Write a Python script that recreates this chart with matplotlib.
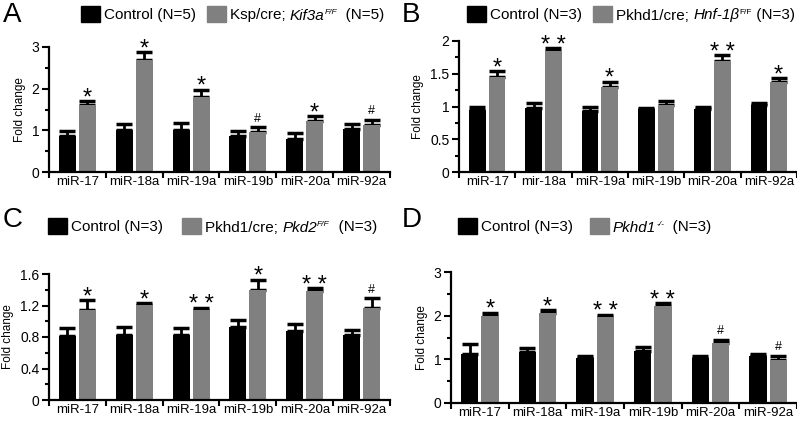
import numpy as np
import matplotlib
matplotlib.use('Agg')
import matplotlib.pyplot as plt
from matplotlib.patches import Rectangle
from matplotlib.ticker import MultipleLocator, StrMethodFormatter

plt.rcParams['font.family'] = ['Liberation Sans', 'DejaVu Sans']

# ---- data ----
labels = ['miR-17', 'miR-18a', 'miR-19a', 'miR-19b', 'miR-20a', 'miR-92a']
labels_b = ['miR-17', 'mir-18a', 'miR-19a', 'miR-19b', 'miR-20a', 'miR-92a']

a_ctrl = [0.87, 1.02, 1.00, 0.87, 0.79, 1.04]
a_ctrl_err = [0.11, 0.13, 0.18, 0.11, 0.15, 0.12]
a_ko = [1.61, 2.70, 1.80, 0.96, 1.23, 1.12]
a_ko_err = [0.10, 0.18, 0.18, 0.11, 0.11, 0.13]
a_sig = ['*', '*', '*', '#', '*', '#']

b_ctrl = [0.95, 0.97, 0.93, 0.96, 0.96, 1.03]
b_ctrl_err = [0.04, 0.09, 0.06, 0.02, 0.03, 0.03]
b_ko = [1.45, 1.84, 1.30, 1.03, 1.69, 1.38]
b_ko_err = [0.09, 0.05, 0.08, 0.06, 0.09, 0.05]
b_sig = ['*', '* *', '*', '', '* *', '*']

c_ctrl = [0.81, 0.83, 0.83, 0.93, 0.88, 0.82]
c_ctrl_err = [0.10, 0.10, 0.08, 0.09, 0.08, 0.07]
c_ko = [1.14, 1.21, 1.14, 1.40, 1.39, 1.17]
c_ko_err = [0.13, 0.02, 0.03, 0.13, 0.03, 0.12]
c_sig = ['*', '*', '* *', '*', '* *', '#']

d_ctrl = [1.13, 1.17, 1.03, 1.19, 1.03, 1.08]
d_ctrl_err = [0.23, 0.10, 0.04, 0.10, 0.04, 0.05]
d_ko = [2.00, 2.06, 1.97, 2.22, 1.38, 0.99]
d_ko_err = [0.07, 0.07, 0.05, 0.06, 0.06, 0.08]
d_sig = ['*', '*', '* *', '* *', '#', '#']

W, H = 797, 422
fig = plt.figure(figsize=(W / 100, H / 100), dpi=100)
renderer = fig.canvas.get_renderer()

BLACK = '#000000'
GRAY = '#808080'


def px_axes(left, right, top, bottom):
    # axes from pixel box
    return fig.add_axes([left / W, 1 - bottom / H, (right - left) / W, (bottom - top) / H])


def draw_panel(ax, ctrl, ctrl_err, ko, ko_err, sig, ticklabels, ymax, major, minor):
    x = np.arange(len(ctrl))
    w = 0.3
    ax.bar(x - 0.175, ctrl, w, color=BLACK, zorder=2)
    ax.bar(x + 0.175, ko, w, color=GRAY, zorder=2)
    ax.errorbar(x - 0.175, ctrl, yerr=[np.zeros(len(ctrl)), ctrl_err], fmt='none',
                ecolor=BLACK, elinewidth=2, capsize=5.5, capthick=2.5, zorder=1)
    ax.errorbar(x + 0.175, ko, yerr=[np.zeros(len(ko)), ko_err], fmt='none',
                ecolor=BLACK, elinewidth=2, capsize=5.5, capthick=2.5, zorder=1)
    for xi, v, e, s in zip(x, ko, ko_err, sig):
        if not s:
            continue
        if s == '#':
            ax.annotate(s, (xi + 0.175, v + e), xytext=(0, 2), textcoords='offset points',
                        ha='center', va='bottom', fontsize=9)
        else:
            ax.annotate(s, (xi + 0.175, v + e), xytext=(0, -6), textcoords='offset points',
                        ha='center', va='bottom', fontsize=17)
    ax.set_xlim(-0.5, len(ctrl) - 0.5)
    ax.set_ylim(0, ymax)
    ax.set_xticks(x)
    ax.set_xticklabels(ticklabels, fontsize=9.5)
    ax.set_xticks(np.arange(len(ctrl) + 1) - 0.5, minor=True)
    ax.tick_params(axis='x', which='major', length=0, pad=3)
    ax.tick_params(axis='x', which='minor', length=4, width=1.5, direction='out')
    ax.yaxis.set_major_locator(MultipleLocator(major))
    ax.yaxis.set_minor_locator(MultipleLocator(minor))
    ax.yaxis.set_major_formatter(StrMethodFormatter('{x:g}'))
    ax.tick_params(axis='y', which='major', length=5, width=1.5, labelsize=10, pad=2)
    ax.tick_params(axis='y', which='minor', length=3, width=1.5)
    ax.set_ylabel('Fold change', fontsize=8.5, labelpad=4)
    for side in ['top', 'right']:
        ax.spines[side].set_visible(False)
    for side in ['left', 'bottom']:
        ax.spines[side].set_linewidth(1.6)


def text_runs(x, base, runs):
    # runs: (text, style, size, raise_px), drawn one after another on a baseline
    for s, style, size, up in runs:
        t = fig.text(x / W, 1 - (base - up) / H, s, fontsize=size, style=style,
                     va='baseline', ha='left')
        x += t.get_window_extent(renderer).width


def legend_row(y, x1, t1, x2, runs2, sq=19):
    for xs, col in [(x1, BLACK), (x2, GRAY)]:
        fig.add_artist(Rectangle((xs / W, 1 - (y + 8) / H), sq / W, 16 / H,
                                 transform=fig.transFigure, color=col))
    base = y + 5.5
    text_runs(x1 + sq + 4, base, [(t1, 'normal', 11, 0)])
    text_runs(x2 + sq + 4, base, runs2)


def panel_letter(x, y, s):
    fig.text(x / W, 1 - y / H, s, fontsize=20, va='center', ha='left')


# Panel A
axA = px_axes(49, 390, 47, 172)
draw_panel(axA, a_ctrl, a_ctrl_err, a_ko, a_ko_err, a_sig, labels, 3, 1, 0.5)
panel_letter(3, 15, 'A')
legend_row(14, 81, 'Control (N=5)', 207,
           [('Ksp/cre; ', 'normal', 11, 0), ('Kif3a', 'italic', 11, 0),
            ('F/F', 'italic', 6, 6), ('  (N=5)', 'normal', 11, 0)])

# Panel B
axB = px_axes(459, 797, 41, 172)
draw_panel(axB, b_ctrl, b_ctrl_err, b_ko, b_ko_err, b_sig, labels_b, 2, 0.5, 0.25)
panel_letter(402, 15, 'B')
legend_row(14, 467, 'Control (N=3)', 593,
           [('Pkhd1/cre; ', 'normal', 11, 0), ('Hnf-1\u03b2', 'italic', 11, 0),
            ('F/F', 'normal', 6, 6), (' (N=3)', 'normal', 11, 0)])

# Panel C
axC = px_axes(49, 390, 274, 400)
draw_panel(axC, c_ctrl, c_ctrl_err, c_ko, c_ko_err, c_sig, labels, 1.6, 0.4, 0.2)
panel_letter(3, 220, 'C')
legend_row(226, 48, 'Control (N=3)', 182,
           [('Pkhd1/cre; ', 'normal', 11, 0), ('Pkd2', 'italic', 11, 0),
            ('F/F', 'italic', 6, 6), ('  (N=3)', 'normal', 11, 0)])

# Panel D
axD = px_axes(451, 797, 272, 403)
draw_panel(axD, d_ctrl, d_ctrl_err, d_ko, d_ko_err, d_sig, labels, 3, 1, 0.5)
panel_letter(402, 220, 'D')
legend_row(226, 458, 'Control (N=3)', 590,
           [('Pkhd1', 'italic', 11, 0), ('-/-', 'italic', 6, 6),
            ('  (N=3)', 'normal', 11, 0)])

fig.savefig('out.png', dpi=100)
